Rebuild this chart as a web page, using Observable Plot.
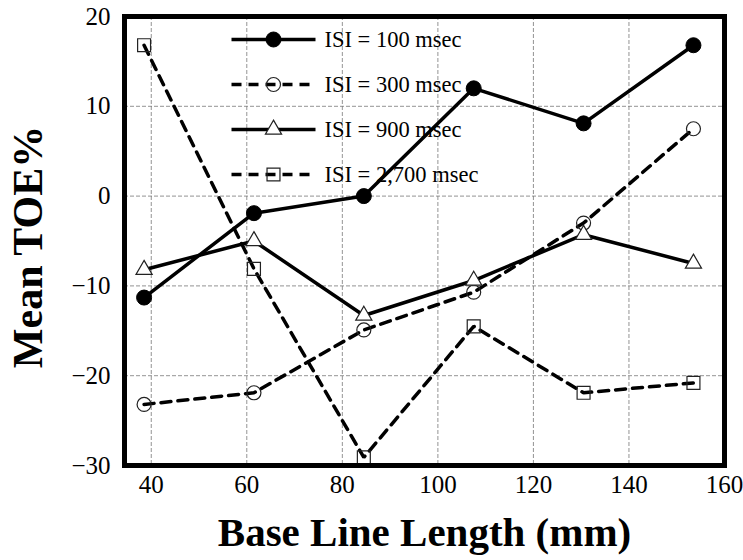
<!DOCTYPE html>
<html><head><meta charset="utf-8">
<script src="https://cdn.jsdelivr.net/npm/d3@7"></script>
<script src="https://cdn.jsdelivr.net/npm/@observablehq/plot@0.6"></script>
<style>body{margin:0;background:#fff}</style>
</head><body><div id="chart"></div>
<script>
// ---- data ----
const lengths = [38.5, 61.5, 84.5, 107.5, 130.5, 153.5];
const seriesNames = ["ISI = 100 msec", "ISI = 300 msec", "ISI = 900 msec", "ISI = 2,700 msec"];
const isi100  = [-11.3, -1.9, 0.0, 12.0, 8.1, 16.8];
const isi300  = [-23.2, -21.9, -14.9, -10.7, -3.0, 7.5];
const isi900  = [-8.2, -5.0, -13.3, -9.4, -4.3, -7.5];
const isi2700 = [16.8, -8.1, -29.1, -14.5, -21.9, -20.8];
const xTicks = [40, 60, 80, 100, 120, 140, 160];
const yTicks = [-30, -20, -10, 0, 10, 20];
const xGrid = [40, 60, 80, 100, 120, 140];
const yGrid = [-20, -10, 0, 10];
const xLabel = "Base Line Length (mm)";
const yLabel = "Mean TOE%";

// ---- styles ----
const seriesValues = [isi100, isi300, isi900, isi2700];
const styles = [
  {symbol: "circle",   fill: "black", stroke: "black", r: 7.5, sw: 1,   dash: null},
  {symbol: "circle",   fill: "none",  stroke: "#222",  r: 7,   sw: 1.2, dash: "10,7"},
  {symbol: "triangle", fill: "white", stroke: "#222",  r: 6,   sw: 1.2, dash: null},
  {symbol: "square",   fill: "none",  stroke: "#222",  r: 7.3, sw: 1.2, dash: "10,7"}
];
const serif = "'Liberation Serif', 'Times New Roman', 'DejaVu Serif', serif";
const segment = {draw(ctx) { ctx.moveTo(-42, 0); ctx.lineTo(42, 0); }};

const marks = [
  Plot.gridX(xGrid, {stroke: "#777", strokeOpacity: 1, strokeWidth: 0.8, strokeDasharray: "4,2"}),
  Plot.gridY(yGrid, {stroke: "#777", strokeOpacity: 1, strokeWidth: 0.8, strokeDasharray: "4,2"}),
  Plot.axisX(xTicks, {tickSize: 0, tickPadding: 10, fontSize: 25, label: null}),
  Plot.axisY(yTicks, {tickSize: 0, tickPadding: 14, fontSize: 25, label: null})
];

seriesValues.forEach((vals, i) => {
  const s = styles[i];
  const rows = lengths.map((x, j) => ({x, y: vals[j]}));
  marks.push(Plot.line(rows, {x: "x", y: "y", stroke: "black", strokeWidth: 3.5,
    strokeDasharray: s.dash, strokeLinejoin: "miter"}));
});
seriesValues.forEach((vals, i) => {
  const s = styles[i];
  const rows = lengths.map((x, j) => ({x, y: vals[j]}));
  marks.push(Plot.dot(rows, {x: "x", y: "y", symbol: s.symbol, r: s.r, fill: s.fill,
    stroke: s.stroke, strokeWidth: s.sw}));
});

// legend
seriesNames.forEach((name, i) => {
  const s = styles[i];
  const dy = 23 + i * 45;
  marks.push(Plot.dot([name], {frameAnchor: "top-left", dx: 149, dy, symbol: segment,
    stroke: "black", strokeWidth: 3.5, strokeDasharray: s.dash, fill: "none"}));
  marks.push(Plot.dot([name], {frameAnchor: "top-left", dx: 149, dy, symbol: s.symbol, r: s.r,
    fill: s.fill, stroke: s.stroke, strokeWidth: s.sw}));
  marks.push(Plot.text([name], {frameAnchor: "top-left", dx: 200, dy, text: d => d,
    textAnchor: "start", lineAnchor: "middle", fontSize: 22.5, fill: "black"}));
});

marks.push(Plot.text([xLabel], {frameAnchor: "bottom", dy: 80, text: d => d, lineAnchor: "bottom",
  textAnchor: "middle", fontSize: 41, fontWeight: "bold", fill: "black"}));
marks.push(Plot.text([yLabel], {frameAnchor: "left", dx: -96, dy: 6, rotate: -90, text: d => d,
  textAnchor: "middle", lineAnchor: "middle", fontSize: 42, fontWeight: "bold", fill: "black"}));
marks.push(Plot.frame({stroke: "black", strokeWidth: 5}));

const chart = Plot.plot({
  width: 743, height: 560,
  marginLeft: 124, marginRight: 19, marginTop: 16, marginBottom: 95,
  x: {domain: [34.4, 160]},
  y: {domain: [-30, 20]},
  style: {fontFamily: serif, background: "white", color: "black", overflow: "visible"},
  marks
});
document.getElementById("chart").appendChild(chart);
</script>
</body></html>
